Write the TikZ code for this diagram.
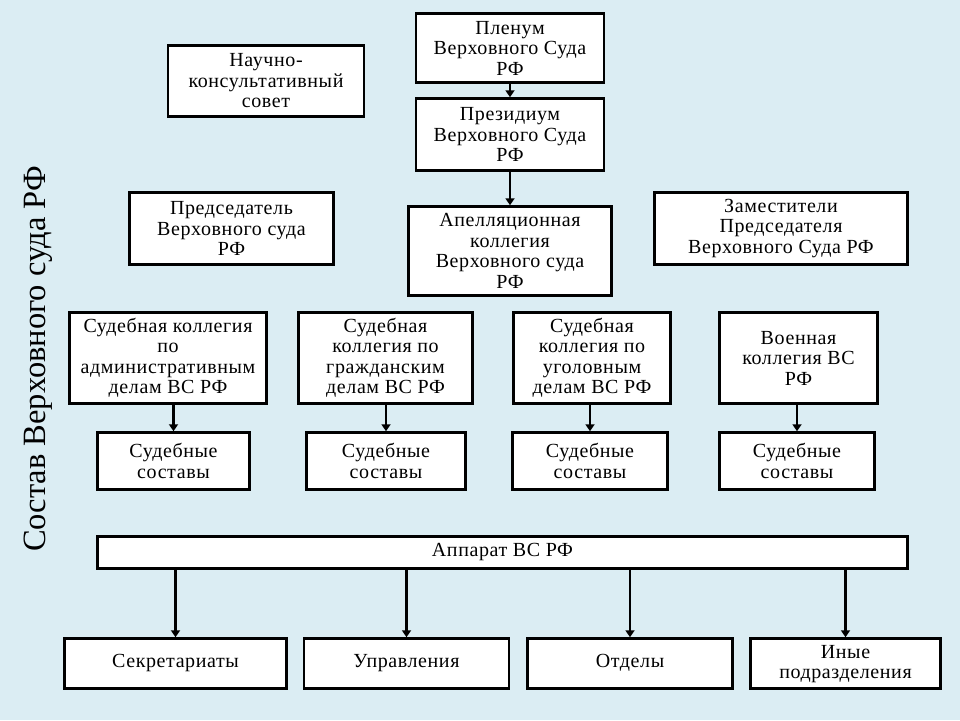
\documentclass[tikz,border=0pt]{standalone}
\usepackage{fontspec}
\setmainfont{Liberation Serif}
\newfontfamily\boxfont{Liberation Serif}[LetterSpace=3]
\usetikzlibrary{arrows.meta}
\definecolor{paleblue}{RGB}{219,237,243}

\tikzset{%
  every box/.style={
    rectangle,
    draw,
    fill=white,
    line width=2.5pt,
    align=center,
    inner sep=2pt,
    font=\boxfont\fontsize{20}{20.5}\selectfont
  },
  link/.style={
    ->,
    line width=2.5pt
  },
}

\begin{document}
\begin{tikzpicture}[x=1pt, y=-1pt, >={Triangle[length=7pt,width=9pt]}]

\fill [paleblue] (0,0) rectangle (960,720);
\useasboundingbox (0,0) rectangle (960,720);

\node [rotate=90, anchor=base, font=\fontsize{32.5}{32.5}\selectfont] (title) at (45,359) {Состав Верховного суда РФ};

\node [every box, minimum width=188pt, minimum height=69pt] (plenum) at (510,48) {Пленум\\Верховного Суда\\РФ};
\node [every box, minimum width=188pt, minimum height=72pt] (prezidium) at (510,134.5) {Президиум\\Верховного Суда\\РФ};
\node [every box, minimum width=203pt, minimum height=89pt] (apell) at (510,251) {Апелляционная\\коллегия\\Верховного суда\\РФ};
\node [every box, minimum width=196pt, minimum height=71pt] (sovet) at (266,81) {Научно-\\консультативный\\совет};
\node [every box, minimum width=204pt, minimum height=72pt] (predsedatel) at (231.5,228.5) {Председатель\\Верховного суда\\РФ};
\node [every box, minimum width=253pt, minimum height=72pt] (zamest) at (781,228.5) {Заместители\\Председателя\\Верховного Суда РФ};

\foreach \n/\x/\w/\t in {adm/168/197/{Судебная коллегия\\по\\административным\\делам ВС РФ},
                        grazhd/385.5/174/{Судебная\\коллегия по\\гражданским\\делам ВС РФ},
                        ugol/592/157/{Судебная\\коллегия по\\уголовным\\делам ВС РФ},
                        voen/798.5/158/{Военная\\коллегия ВС\\РФ}}
  \node [every box, minimum width=\w pt, minimum height=91pt] (\n) at (\x,358) {\t};

\foreach \n/\x/\w in {adm/173.5/152, grazhd/386/159, ugol/590/155, voen/797/155}
  \node [every box, minimum width=\w pt, minimum height=57pt] (sostav-\n) at (\x,461) {Судебные\\составы};

\foreach \n in {adm,grazhd,ugol,voen}
  \draw [link] (\n.south -| sostav-\n.north) -- (sostav-\n.north);

\node [every box, minimum width=810pt, minimum height=32pt] (apparat) at (502.5,552.5) {\strut Аппарат ВС РФ};

\foreach \n/\x/\w/\t in {sekr/175.5/222/Секретариаты, uprav/406.5/205/Управления,
                        otdel/630/205/Отделы, inye/845.5/190/{Иные\\подразделения}}
  \node [every box, minimum width=\w pt, minimum height=50pt] (\n) at (\x,663.5) {\strut\t};

\foreach \n in {sekr,uprav,otdel,inye}
  \draw [link] (\n.north |- apparat.south) -- (\n.north);

\draw [link] (plenum) -- (prezidium);
\draw [link] (prezidium) -- (apell);

\end{tikzpicture}
\end{document}
